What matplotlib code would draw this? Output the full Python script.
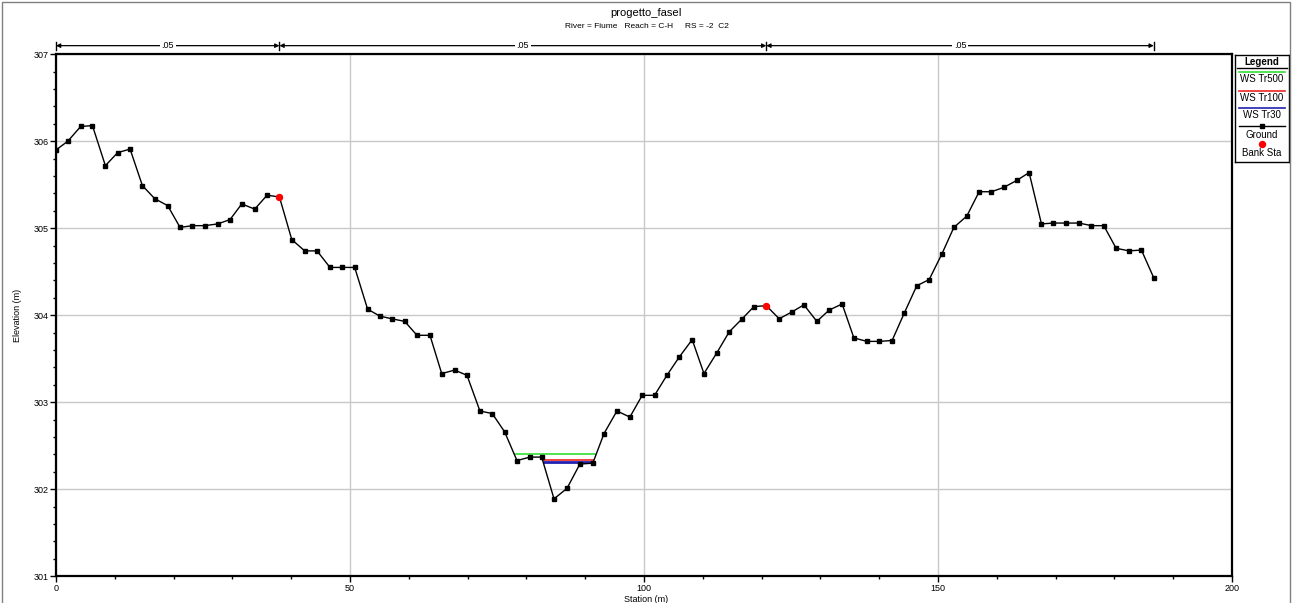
import matplotlib
matplotlib.use("Agg")
import matplotlib.pyplot as plt
from matplotlib.patches import Rectangle
from matplotlib.ticker import MultipleLocator
import numpy as np

plt.rcParams['font.family'] = ['Liberation Sans', 'DejaVu Sans']

# cross section geometry: station (m), elevation (m)
station = [0.0, 2.0, 4.2, 6.2, 8.4, 10.5, 12.6, 14.7, 16.8, 19.0,
           21.1, 23.2, 25.3, 27.5, 29.6, 31.6, 33.8, 35.9, 38.0, 40.1,
           42.3, 44.4, 46.6, 48.7, 50.8, 53.0, 55.1, 57.1, 59.3, 61.4,
           63.6, 65.6, 67.8, 69.9, 72.1, 74.2, 76.3, 78.4, 80.6, 82.6,
           84.7, 86.9, 89.1, 91.3, 93.2, 95.4, 97.6, 99.7, 101.8, 103.9,
           106.0, 108.2, 110.2, 112.4, 114.5, 116.7, 118.7, 120.8, 123.0, 125.2,
           127.2, 129.4, 131.5, 133.7, 135.7, 137.9, 140.0, 142.2, 144.3, 146.4,
           148.5, 150.7, 152.7, 154.9, 157.0, 159.1, 161.2, 163.4, 165.5, 167.6,
           169.6, 171.8, 174.0, 176.1, 178.2, 180.3, 182.5, 184.6, 186.7]
elevation = [305.90, 306.00, 306.17, 306.18, 305.72, 305.87, 305.91, 305.49, 305.34, 305.26,
             305.01, 305.03, 305.03, 305.05, 305.10, 305.28, 305.22, 305.38, 305.36, 304.87,
             304.74, 304.74, 304.55, 304.55, 304.55, 304.07, 303.99, 303.96, 303.93, 303.77,
             303.77, 303.33, 303.37, 303.31, 302.90, 302.87, 302.66, 302.33, 302.37, 302.37,
             301.89, 302.01, 302.29, 302.30, 302.64, 302.90, 302.83, 303.08, 303.08, 303.31,
             303.52, 303.72, 303.33, 303.57, 303.81, 303.96, 304.10, 304.11, 303.96, 304.04,
             304.12, 303.93, 304.06, 304.13, 303.74, 303.70, 303.70, 303.71, 304.03, 304.34,
             304.41, 304.71, 305.01, 305.14, 305.42, 305.42, 305.47, 305.55, 305.64, 305.05,
             305.06, 305.06, 305.06, 305.03, 305.03, 304.77, 304.74, 304.75, 304.43]

bank_sta = [38.0, 120.8]
bank_elev = [305.36, 304.11]

# manning n for left overbank, channel, right overbank
mann_n = [".05", ".05", ".05"]

profiles = ["WS Tr500", "WS Tr100", "WS Tr30"]
ws_elev = [302.40, 302.34, 302.31]
ws_color = ["#33dd33", "#ee2222", "#2020b0"]
ws_width = [1.2, 1.2, 2.0]


def wet_segments(x, z, ws):
    segs = []
    start = x[0] if z[0] < ws else None
    for i in range(len(x) - 1):
        a, b = z[i] - ws, z[i + 1] - ws
        if a >= 0 and b < 0:
            start = x[i] + (x[i + 1] - x[i]) * a / (a - b)
        elif a < 0 and b >= 0 and start is not None:
            end = x[i] + (x[i + 1] - x[i]) * a / (a - b)
            segs.append((start, end))
            start = None
    return segs


fig = plt.figure(figsize=(12.93, 6.03), dpi=100)
ax = fig.add_axes([0.0433, 0.0443, 0.9095, 0.8657])

ax.set_xlim(0, 200)
ax.set_ylim(301, 307)
ax.grid(True, which='major', color='#c8c8c8', lw=1)
ax.set_axisbelow(True)
ax.xaxis.set_major_locator(MultipleLocator(50))
ax.xaxis.set_minor_locator(MultipleLocator(10))
ax.yaxis.set_major_locator(MultipleLocator(1))
ax.yaxis.set_minor_locator(MultipleLocator(0.2))
ax.tick_params(which='major', direction='out', length=4, width=1, labelsize=6.5, pad=1.5)
ax.tick_params(which='minor', direction='out', length=2.5, width=1)
for sp in ax.spines.values():
    sp.set_linewidth(1.6)

x = np.array(station)
z = np.array(elevation)

for ws, c, w in zip(ws_elev, ws_color, ws_width):
    for s, e in wet_segments(x, z, ws):
        ax.plot([s, e], [ws, ws], color=c, lw=w, solid_capstyle='butt', zorder=3)

ax.plot(x, z, color='black', lw=1, marker='s', ms=3.3, zorder=4)
ax.plot(bank_sta, bank_elev, 'o', color='red', ms=4.3, zorder=5)

# manning n dimension line above the plot
edges = [station[0]] + bank_sta + [station[-1]]
trans = ax.get_xaxis_transform()
y_line = 1.0165
for xe in edges:
    ax.plot([xe, xe], [1.008, 1.024], color='black', lw=1, transform=trans, clip_on=False)
for i, n in enumerate(mann_n):
    ax.annotate('', xy=(edges[i], y_line), xytext=(edges[i + 1], y_line),
                xycoords=trans, textcoords=trans,
                arrowprops=dict(arrowstyle='<|-|>', color='black', lw=0.9,
                                mutation_scale=6, shrinkA=0, shrinkB=0))
    ax.text((edges[i] + edges[i + 1]) / 2, y_line, n, transform=trans,
            ha='center', va='center', fontsize=6.5,
            bbox=dict(facecolor='white', edgecolor='none', pad=1.2))

fig.text(0.5, 1 - 13 / 603, "progetto_faseI", ha='center', va='center', fontsize=8)
fig.text(0.5, 1 - 27 / 603, "River = Fiume   Reach = C-H     RS = -2  C2",
         ha='center', va='center', fontsize=6)
fig.text(17 / 1293, 1 - 315 / 603, "Elevation (m)", rotation=90,
         ha='center', va='center', fontsize=6.5)
fig.text(0.5, 1 - 595 / 603, "Station (m)", ha='center', va='top', fontsize=6.5)

# outer frame
fig.patches.append(Rectangle((2 / 1293, -0.05), 1288 / 1293, 1.05 - 2 / 603,
                             transform=fig.transFigure, fill=False,
                             edgecolor='#808080', lw=1))

# legend panel
lg = fig.add_axes([1235 / 1293, 1 - 162 / 603, 54 / 1293, 107 / 603])
lg.set_xlim(0, 54)
lg.set_ylim(107, 0)
lg.set_xticks([])
lg.set_yticks([])
for sp in lg.spines.values():
    sp.set_linewidth(1)
lg.text(27, 7, "Legend", ha='center', va='center', fontsize=7, fontweight='bold')
lg.plot([2, 52], [12.7, 12.7], color='black', lw=1)
rows = [17, 36, 53]
for yy, name, c in zip(rows, profiles, ws_color):
    lg.plot([4, 50], [yy, yy], color=c, lw=1.2)
    lg.text(27, yy + 7, name, ha='center', va='center', fontsize=7)
lg.plot([4, 50], [71, 71], color='black', lw=1)
lg.plot([27], [71], 's', color='black', ms=3.3)
lg.text(27, 80, "Ground", ha='center', va='center', fontsize=7)
lg.plot([27], [89], 'o', color='red', ms=4.3)
lg.text(27, 98, "Bank Sta", ha='center', va='center', fontsize=7)

fig.savefig("out.png", dpi=100)
